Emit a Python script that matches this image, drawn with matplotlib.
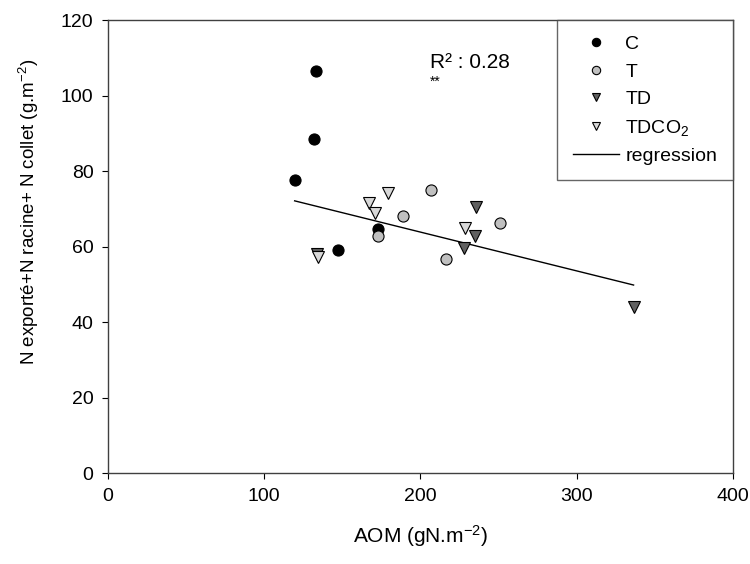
import matplotlib
matplotlib.use("Agg")
import matplotlib.pyplot as plt

plt.rcParams["font.family"] = ["Liberation Sans", "DejaVu Sans"]
plt.rcParams["mathtext.fontset"] = "custom"
plt.rcParams["mathtext.rm"] = "Liberation Sans"
plt.rcParams["mathtext.it"] = "Liberation Sans"

# C
c_x = [133.1, 132.0, 119.5, 147.0, 172.6]
c_y = [106.5, 88.5, 77.5, 59.2, 64.6]
# T
t_x = [206.5, 188.6, 172.6, 216.7, 251.3]
t_y = [75.0, 68.2, 62.8, 56.6, 66.1]
# TD
td_x = [235.3, 234.9, 228.1, 133.8, 336.5]
td_y = [70.5, 62.8, 59.5, 58.0, 44.0]
# TDCO2
tdco2_x = [179.0, 167.0, 170.9, 228.5, 134.6]
tdco2_y = [74.3, 71.4, 69.0, 64.8, 57.1]
# regression
reg_x = [119.5, 336.5]
reg_y = [72.1, 49.8]

fig = plt.figure(figsize=(7.5, 5.64), dpi=100)
ax = fig.add_axes([0.144, 0.1613, 0.833, 0.8032])

ms = 8
ax.plot(c_x, c_y, "o", color="black", markersize=ms, markeredgecolor="black",
        markeredgewidth=0.8, label="C", zorder=3)
ax.plot(t_x, t_y, "o", color="#c0c0c0", markersize=ms, markeredgecolor="black",
        markeredgewidth=0.8, label="T", zorder=3)
ax.plot(td_x, td_y, "v", color="#606060", markersize=ms, markeredgecolor="black",
        markeredgewidth=0.8, label="TD", zorder=3)
ax.plot(tdco2_x, tdco2_y, "v", color="#d8d8d8", markersize=ms, markeredgecolor="black",
        markeredgewidth=0.8, label="TDCO$_2$", zorder=3)
ax.plot(reg_x, reg_y, "-", color="black", linewidth=1.0, label="regression", zorder=2)

ax.set_xlim(0, 400)
ax.set_ylim(0, 120)
ax.set_xticks([0, 100, 200, 300, 400])
ax.set_yticks([0, 20, 40, 60, 80, 100, 120])
ax.tick_params(direction="out", length=4.5, labelsize=14, pad=6)
for s in ax.spines.values():
    s.set_linewidth(1.0)
    s.set_color("#404040")

ax.set_xlabel("AOM (gN.m$^{-2}$)", fontsize=15, labelpad=13)
ax.set_ylabel("N exporté+N racine+ N collet (g.m$^{-2}$)", fontsize=13.5, labelpad=8)
ax.yaxis.set_label_coords(-0.107, 0.576)

ax.text(206, 108.8, "R² : 0.28", fontsize=15, va="center")
ax.text(206, 103.6, "**", fontsize=10, va="center")

leg = ax.legend(loc="upper right", fontsize=14, borderaxespad=0, frameon=True,
                fancybox=False, handlelength=2.4, handletextpad=0.3,
                labelspacing=0.5, borderpad=0.8, markerscale=0.75)
leg.get_frame().set_edgecolor("#404040")
leg.get_frame().set_linewidth(1.0)

fig.savefig("out.png", dpi=100)
